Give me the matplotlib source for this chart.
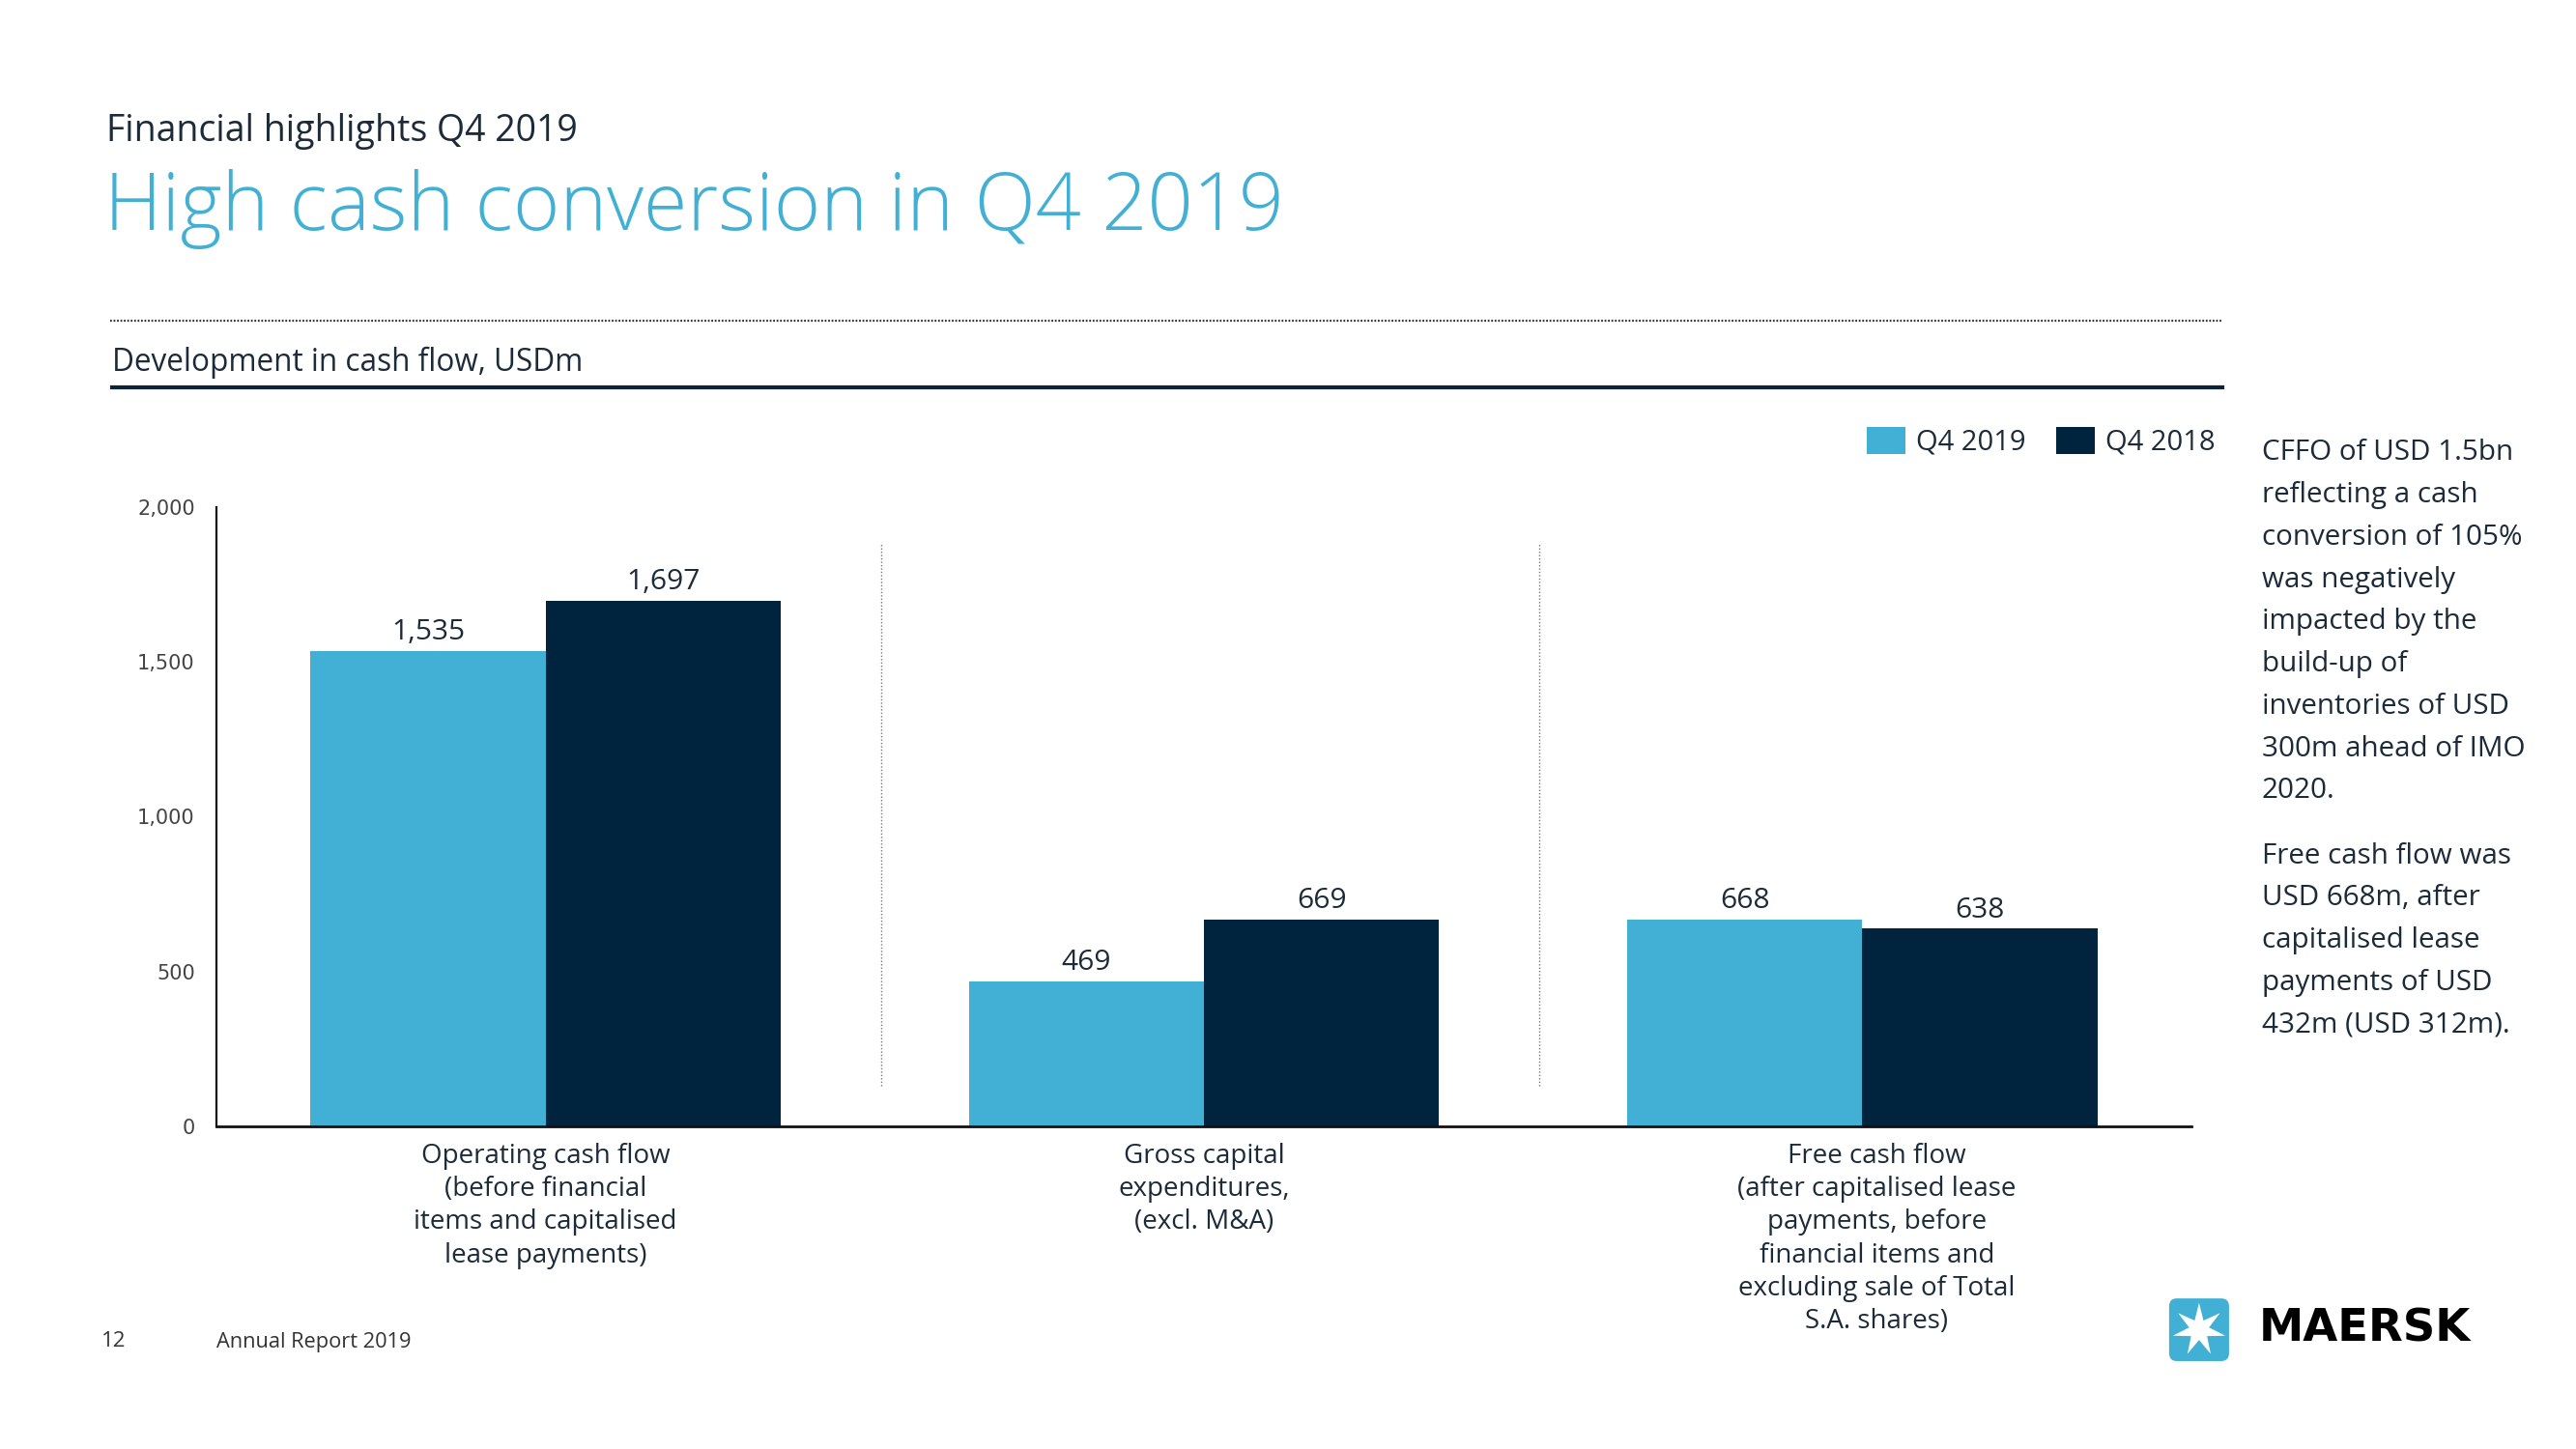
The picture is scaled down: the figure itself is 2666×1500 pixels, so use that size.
import numpy as np
import matplotlib.pyplot as plt
import matplotlib.transforms as mtransforms
from matplotlib.patches import FancyBboxPatch, Polygon

# data
categories = [
    "Operating cash flow\n(before financial\nitems and capitalised\nlease payments)",
    "Gross capital\nexpenditures,\n(excl. M&A)",
    "Free cash flow\n(after capitalised lease\npayments, before\nfinancial items and\nexcluding sale of Total\nS.A. shares)",
]
q4_2019 = [1535, 469, 668]
q4_2018 = [1697, 669, 638]
series_names = ["Q4 2019", "Q4 2018"]
yticks = [0, 500, 1000, 1500, 2000]

note_1 = ("CFFO of USD 1.5bn\nreflecting a cash\nconversion of 105%\nwas negatively\n"
          "impacted by the\nbuild-up of\ninventories of USD\n300m ahead of IMO\n2020.")
note_2 = ("Free cash flow was\nUSD 668m, after\ncapitalised lease\npayments of USD\n"
          "432m (USD 312m).")

light_blue = "#42B0D5"
navy = "#00243D"
text_col = "#1c2b39"

plt.rcParams['font.family'] = ['Open Sans', 'DejaVu Sans']

fig = plt.figure(figsize=(26.66, 15), dpi=100)
ax = fig.add_axes([0.0840, 0.2227, 0.7667, 0.4273])

x = np.arange(len(categories))
w = 0.357
b1 = ax.bar(x - w / 2, q4_2019, w, color=light_blue, label=series_names[0])
b2 = ax.bar(x + w / 2, q4_2018, w, color=navy, label=series_names[1])
ax.bar_label(b1, labels=[f"{v:,}" for v in q4_2019], padding=3.5, fontsize=21.5, color=text_col)
ax.bar_label(b2, labels=[f"{v:,}" for v in q4_2018], padding=3.5, fontsize=21.5, color=text_col)

# dotted separators between groups
ax.vlines(x[:-1] + 0.51, 130, 1885, colors="#777777", linestyles=(0, (1, 1.5)), linewidth=1)

ax.set_xlim(-0.5, 2.5)
ax.set_ylim(0, 2000)
ax.set_yticks(yticks)
ax.set_yticklabels([f"{v:,}" for v in yticks], family="DejaVu Sans", fontsize=15, color="#444444")
ax.set_xticks(x)
ax.set_xticklabels(categories, fontsize=20, color=text_col, linespacing=1.3)
ax.tick_params(axis='both', length=0)
ax.tick_params(axis='y', pad=16)
ax.tick_params(axis='x', pad=12)
# last category label sits a little right of its group centre
lbl = ax.get_xticklabels()[-1]
lbl.set_transform(lbl.get_transform() + mtransforms.ScaledTranslation(0.15, 0, fig.dpi_scale_trans))
for s in ["top", "right"]:
    ax.spines[s].set_visible(False)
ax.spines["left"].set_linewidth(1.6)
ax.spines["left"].set_color("#111111")
ax.spines["bottom"].set_linewidth(2)
ax.spines["bottom"].set_color("#111111")

leg = ax.legend(loc="center left", bbox_to_anchor=(0.7247, 0.695), bbox_transform=fig.transFigure,
                ncol=2, frameon=False, fontsize=21, handlelength=1.38, handleheight=1.07,
                handletextpad=0.38, columnspacing=1.05, borderpad=0, borderaxespad=0)
for t in leg.get_texts():
    t.set_color(text_col)

# headings
fig.text(0.0413, 0.9027, "Financial highlights Q4 2019", fontsize=27, color=text_col, va="baseline")
fig.text(0.0405, 0.841, "High cash conversion in Q4 2019", fontsize=59.5, color=light_blue,
         fontweight="light", va="baseline")
fig.add_artist(plt.Line2D([0.0428, 0.8624], [0.7787, 0.7787], transform=fig.transFigure,
                          color="#333333", linewidth=1.6, linestyle=(0, (0.8, 0.8))))
fig.text(0.0435, 0.744, "Development in cash flow, USDm", fontsize=22.7, color=text_col, va="baseline")
fig.add_artist(plt.Line2D([0.0435, 0.8627], [0.7327, 0.7327], transform=fig.transFigure,
                          color="#0d2336", linewidth=3))

# side notes
fig.text(0.878, 0.697, note_1, fontsize=21.3, color=text_col, va="top", linespacing=1.67)
fig.text(0.878, 0.419, note_2, fontsize=21.3, color=text_col, va="top", linespacing=1.67)

# footer
fig.text(0.0394, 0.074, "12", fontsize=16, color="#333333", va="center")
fig.text(0.084, 0.074, "Annual Report 2019", fontsize=15.7, color="#333333", va="center")

# logo
lax = fig.add_axes([0.8413, 0.0593, 0.02476, 0.046])
lax.set_xlim(0, 1)
lax.set_ylim(0, 1)
lax.axis("off")
lax.add_patch(FancyBboxPatch((0.03, 0.03), 0.94, 0.94, boxstyle="round,pad=0,rounding_size=0.12",
                             facecolor=light_blue, edgecolor="none"))
ang = np.pi / 2 + np.arange(14) * np.pi / 7
rad = np.where(np.arange(14) % 2 == 0, 0.42, 0.16)
lax.add_patch(Polygon(np.c_[0.5 + rad * np.cos(ang), 0.5 + rad * np.sin(ang) * 66 / 69],
                      closed=True, facecolor="white", edgecolor="none"))
fig.text(0.877, 0.0827, "MAERSK", fontsize=33.5, fontweight="bold", family="DejaVu Sans",
         color="#000000", va="center")

fig.savefig("out.png", dpi=100, facecolor="white")
